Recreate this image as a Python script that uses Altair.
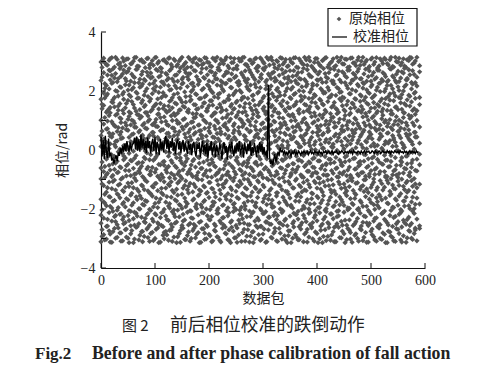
import altair as alt
import pandas as pd

# Raw phase cloud: too dense to read point by point, so these hundredths of a rad are
# hand-estimated to reproduce the cloud's extent (+-3.14) and density, not the exact dots.
phase_rows = [
[-311,-248,-221,-167,-98,-61,12,49,101,172,236,298],[-287,-231,-176,-121,-73,-8,37,88,151,193,262,311],
[-302,-259,-189,-143,-84,-31,26,71,128,184,219,289],[-274,-212,-158,-109,-52,5,58,117,139,207,271,304],
[-313,-241,-197,-131,-91,-17,44,96,163,226,253,313],[-266,-226,-171,-102,-66,-22,19,82,146,178,244,281],
[-296,-253,-204,-149,-77,-38,31,63,122,199,231,307],[-281,-218,-162,-116,-57,3,52,109,157,214,276,295],
[-308,-236,-183,-137,-94,-12,41,75,134,189,258,312],[-270,-246,-193,-126,-69,-27,16,92,143,221,242,286],
[-299,-222,-169,-112,-48,9,67,104,168,203,267,309],[-284,-257,-208,-153,-87,-35,28,85,125,181,233,292],
[-314,-233,-179,-128,-62,-4,55,98,154,211,249,301],[-262,-214,-159,-104,-80,-19,34,77,131,196,273,314],
[-305,-250,-199,-141,-71,-43,23,61,119,176,228,283],[-277,-228,-164,-119,-55,7,46,113,160,217,256,306],
[-293,-243,-187,-134,-96,-25,38,90,147,186,239,297],[-268,-219,-174,-107,-64,-10,14,72,127,208,264,310],
[-310,-255,-201,-146,-83,-33,50,103,165,223,278,288],[-279,-234,-156,-123,-59,1,60,86,137,191,247,303],
[-300,-216,-181,-114,-75,-29,21,94,152,201,235,313],[-264,-247,-195,-138,-89,-15,43,79,121,173,269,294],
[-312,-229,-166,-101,-50,11,65,110,158,213,251,279],[-289,-260,-210,-151,-93,-40,25,69,141,194,230,305],
[-276,-224,-177,-129,-68,-6,39,97,133,183,260,299],[-306,-239,-190,-117,-56,-21,57,83,149,218,243,311],
[-271,-252,-160,-108,-79,-36,18,116,169,205,275,290],[-295,-217,-203,-144,-86,2,48,74,124,188,232,308],
[-314,-244,-173,-133,-60,-26,33,100,156,210,255,284],[-283,-227,-185,-106,-72,-13,62,91,136,177,266,302],
[-263,-256,-198,-150,-97,-45,20,78,162,224,240,314],[-303,-237,-163,-120,-53,6,54,106,145,197,272,292],
[-290,-211,-182,-135,-81,-30,29,87,130,215,248,280],[-309,-249,-206,-113,-65,-9,45,70,166,182,259,307],
[-273,-232,-170,-142,-90,-37,15,95,123,204,227,298],[-298,-258,-192,-125,-58,10,59,111,153,190,268,312],
[-280,-220,-155,-100,-76,-24,36,84,140,222,238,287],[-313,-242,-186,-139,-63,-2,51,66,118,175,262,304],
[-267,-213,-175,-122,-85,-41,27,102,159,209,246,293],[-301,-254,-200,-147,-70,-16,47,93,132,185,277,311],
[-286,-235,-161,-110,-49,8,64,76,150,216,234,296],[-311,-225,-191,-130,-92,-32,22,115,167,198,265,283],
[-272,-251,-178,-145,-54,-20,42,81,126,180,252,309],[-294,-215,-205,-103,-78,4,56,99,142,220,241,314],
[-307,-240,-168,-136,-67,-28,30,73,155,192,270,291],[-265,-230,-188,-118,-88,-11,13,108,135,206,229,300],
[-282,-261,-157,-111,-51,-39,53,89,164,225,257,306],[-304,-223,-196,-148,-74,0,40,68,120,174,263,285],
[-314,-245,-172,-127,-95,-23,24,105,148,212,237,313],[-275,-209,-184,-105,-61,-7,58,82,138,187,274,297],
[-297,-256,-202,-140,-82,-34,35,112,161,200,250,278],[-288,-238,-165,-124,-47,12,63,77,129,219,233,310],
[-310,-219,-194,-115,-71,-18,17,101,170,195,261,302],[-269,-248,-180,-152,-99,-42,49,88,144,179,245,314],
[-292,-226,-158,-132,-56,3,32,71,117,214,228,289],[-312,-253,-207,-109,-83,-26,61,96,157,202,271,305],
[-278,-214,-174,-143,-64,-14,26,107,134,184,254,293],[-300,-241,-189,-126,-91,-44,44,80,151,223,239,309],
[-263,-231,-161,-104,-52,9,55,114,127,193,267,284],[-306,-259,-199,-137,-77,-31,19,67,163,211,247,312],
[-285,-216,-176,-119,-94,-5,37,92,140,176,276,299],[-313,-244,-209,-154,-59,-21,52,75,122,207,231,281],
[-271,-228,-167,-101,-69,14,46,103,158,189,258,307],[-296,-252,-183,-131,-86,-38,23,85,146,217,242,314],
[-282,-222,-193,-112,-48,-12,60,98,131,181,264,291],[-308,-236,-156,-145,-73,-29,31,69,168,204,236,303],
[-266,-247,-179,-120,-97,5,41,110,125,196,253,286],[-302,-212,-203,-134,-62,-33,16,83,149,221,273,311],
[-291,-239,-171,-107,-80,-17,57,94,137,186,244,298],[-314,-257,-186,-141,-54,7,28,72,160,209,226,283],
[-274,-224,-163,-116,-90,-24,50,116,143,178,269,308],[-299,-249,-197,-128,-66,-46,39,78,121,213,250,294],
[-287,-218,-173,-103,-75,-3,64,100,154,192,235,313],[-305,-234,-208,-149,-57,-35,21,87,133,224,262,279],
[-268,-254,-159,-125,-84,11,47,68,166,183,240,301],[-311,-221,-190,-110,-93,-19,33,105,129,199,277,290],
[-279,-243,-177,-138,-50,-8,56,91,152,216,232,306],[-295,-215,-200,-117,-72,-40,25,76,139,175,256,314],
[-264,-260,-165,-146,-88,2,43,113,162,206,248,284],[-309,-229,-182,-106,-60,-27,18,95,126,188,272,297],
[-283,-240,-157,-129,-78,-15,59,81,147,220,238,310],[-301,-213,-195,-113,-96,-37,35,66,119,172,265,288],
[-314,-251,-170,-142,-53,6,51,109,156,201,229,303],[-270,-227,-204,-122,-68,-22,27,86,135,194,259,312],
[-293,-246,-184,-102,-85,-6,62,74,164,212,243,281],[-306,-217,-160,-135,-45,-32,38,99,123,180,275,296],
[-277,-233,-192,-118,-79,10,20,111,150,225,234,309],[-311,-258,-175,-150,-63,-25,54,79,141,185,252,286],
[-262,-223,-206,-108,-92,-10,42,93,128,208,268,300],[-298,-242,-168,-130,-51,-43,29,70,167,197,230,314],
[-284,-211,-188,-115,-74,4,65,104,136,177,260,291],[-304,-255,-155,-139,-87,-20,15,84,153,218,246,307],
[-272,-237,-198,-124,-58,-36,48,97,120,191,271,282],[-313,-220,-181,-105,-95,1,34,67,159,205,237,312],
[-289,-250,-164,-147,-65,-28,58,108,144,174,255,295],[-300,-232,-201,-111,-82,-13,24,90,132,222,266,305],
[-267,-214,-172,-133,-49,-39,45,73,165,187,241,287],[-307,-245,-191,-121,-76,8,61,112,138,210,228,314],
[-280,-226,-158,-100,-89,-16,30,82,124,179,274,299],[-312,-256,-205,-144,-55,-30,40,101,155,195,249,278],
[-275,-218,-178,-127,-70,13,53,77,142,215,233,308],[-294,-241,-185,-109,-98,-23,22,115,161,182,263,290],
[-309,-230,-162,-136,-61,-4,66,89,125,203,245,313],[-265,-253,-196,-151,-81,-41,36,71,148,226,270,285],
[-303,-216,-169,-114,-47,6,47,106,130,173,239,302],[-286,-235,-207,-126,-73,-18,19,94,157,198,257,311],
[-314,-247,-180,-103,-90,-34,57,80,134,219,231,293],[-278,-222,-154,-140,-56,-9,32,103,169,190,276,306],
[-297,-259,-194,-119,-84,12,49,69,122,208,251,283],[-310,-225,-166,-132,-67,-26,26,98,145,183,235,314],
[-269,-243,-187,-106,-93,-2,63,86,137,214,267,298],[-305,-212,-202,-148,-52,-37,41,75,160,176,244,288],
[-291,-238,-173,-123,-78,7,17,110,127,200,261,309],[-313,-252,-160,-111,-64,-21,55,92,151,221,238,280],
[-273,-228,-189,-137,-86,-11,38,68,118,186,272,303],[-299,-249,-176,-104,-59,-44,28,114,163,207,229,312],
[-283,-215,-199,-143,-97,3,60,83,140,192,256,295],[-308,-234,-163,-128,-71,-31,44,100,133,217,247,314],
[-266,-257,-183,-116,-50,-14,23,78,154,178,265,286],
]
# A second, less orderly set between those packets (also hand-estimated)
phase_rows_b = [
[-293,-270,-203,-115,-41,33,64,140,155,247,280,302],[-305,-180,-150,-93,-56,-1,8,110,176,209,225,296],
[-258,-235,-128,-79,-24,-15,72,98,133,190,254,288],[-312,-285,-191,-160,-68,21,47,126,144,238,268,310],
[-277,-208,-174,-107,-86,-47,55,89,161,170,229,275],[-299,-243,-222,-136,-44,11,29,80,118,201,259,314],
[-264,-195,-152,-119,-75,-6,76,135,149,183,242,291],[-309,-281,-216,-99,-60,39,61,93,106,212,250,283],
[-250,-227,-178,-141,-33,-20,15,124,172,196,271,301],[-295,-268,-165,-88,-53,2,69,83,158,234,263,308],
[-314,-239,-206,-124,-70,-11,43,114,129,187,220,276],[-273,-187,-147,-111,-37,25,52,101,164,205,257,293],
[-302,-255,-211,-95,-82,-28,78,91,142,228,246,313],[-260,-224,-168,-133,-46,6,35,120,175,192,274,284],
[-289,-200,-155,-78,-63,18,66,107,137,213,240,304],[-311,-276,-184,-122,-90,-42,50,84,168,224,266,299],
[-246,-232,-172,-103,-30,-3,74,127,152,199,235,279],[-297,-263,-215,-139,-58,27,41,97,116,181,252,311],
[-283,-205,-148,-84,-72,-16,9,131,173,244,261,292],[-307,-242,-193,-126,-35,48,59,87,146,208,226,287],
[-269,-220,-163,-113,-65,-23,80,104,156,216,273,314],[-314,-252,-177,-92,-49,13,36,122,139,195,248,300],
[-256,-213,-145,-130,-83,4,68,95,178,231,264,277],[-301,-279,-201,-108,-39,-52,24,112,150,185,222,306],
[-288,-236,-158,-76,-61,32,56,86,128,237,256,295],[-272,-197,-182,-121,-94,-9,45,134,165,203,269,312],
[-310,-261,-209,-137,-43,20,75,100,143,177,241,282],[-248,-226,-169,-97,-54,-14,63,117,159,218,253,303],
[-294,-204,-153,-112,-81,37,51,90,125,192,233,290],[-313,-273,-188,-89,-27,-36,7,136,171,210,278,308],
[-265,-241,-218,-129,-67,16,70,103,148,227,246,285],[-304,-192,-175,-105,-40,-19,42,81,162,181,262,297],
[-278,-254,-146,-123,-74,28,60,128,137,239,258,314],[-300,-230,-207,-82,-51,-5,34,94,170,198,225,281],
[-252,-266,-166,-116,-32,53,77,109,154,215,270,309],[-286,-199,-183,-96,-87,10,22,123,138,188,249,293],
[-314,-245,-151,-135,-45,-26,65,85,174,232,236,306],[-267,-212,-194,-101,-62,40,49,115,147,204,276,289],
[-303,-282,-171,-125,-80,-12,73,99,160,180,243,313],[-259,-223,-144,-91,-34,17,30,132,141,221,255,298],
[-291,-237,-202,-110,-69,-48,58,88,167,206,267,284],[-308,-189,-176,-132,-42,1,44,119,152,194,230,311],
[-275,-257,-159,-85,-57,26,71,102,126,241,260,302],[-296,-214,-198,-118,-77,-18,38,92,177,189,272,280],
[-312,-247,-149,-98,-29,54,62,129,145,217,234,307],[-254,-229,-186,-127,-64,12,19,83,163,200,251,292],
[-284,-206,-167,-104,-83,-31,76,111,135,226,265,314],[-306,-271,-213,-87,-46,5,47,97,171,184,238,278],
[-262,-240,-154,-134,-55,-7,33,125,155,211,258,296],[-298,-196,-181,-94,-73,43,67,89,140,193,245,310],
[-313,-264,-161,-120,-38,-25,15,118,166,229,274,286],[-249,-218,-204,-106,-66,23,55,105,149,202,223,301],
[-280,-233,-147,-86,-50,-10,79,93,127,178,254,313],[-309,-201,-190,-128,-78,35,46,130,158,235,268,290],
[-270,-253,-173,-100,-35,-44,8,101,175,207,240,282],[-292,-225,-156,-117,-59,18,64,84,143,220,263,305],
[-314,-277,-210,-90,-71,-2,31,121,169,186,247,297],[-257,-193,-179,-131,-41,50,69,96,136,213,277,311],
[-287,-238,-143,-109,-85,-22,41,113,153,197,231,283],[-303,-259,-205,-83,-48,9,24,88,164,242,256,308],
[-268,-215,-164,-125,-65,-13,74,133,146,182,271,294],[-311,-244,-185,-96,-30,39,57,104,128,219,237,314],
[-251,-228,-152,-138,-76,3,20,82,172,205,252,288],[-299,-194,-170,-102,-54,-37,66,116,151,191,261,304],
[-276,-265,-212,-114,-88,29,48,95,139,233,244,279],[-310,-222,-145,-81,-43,-16,13,126,179,210,275,300],
[-282,-248,-200,-122,-60,59,75,90,157,185,228,313],[-255,-207,-160,-93,-36,7,32,108,167,222,259,291],
[-306,-234,-177,-140,-69,-28,52,86,131,199,266,307],[-290,-274,-150,-107,-52,16,71,119,144,240,248,285],
[-314,-192,-187,-84,-79,-4,37,99,174,206,232,298],[-261,-242,-214,-129,-47,44,61,112,150,188,269,312],
[-295,-219,-157,-98,-67,-21,26,80,163,227,253,281],[-304,-260,-174,-119,-33,10,78,124,138,201,243,309],
[-247,-202,-142,-88,-91,-39,42,94,170,214,264,294],[-285,-231,-197,-135,-56,22,51,107,155,180,239,314],
[-312,-269,-168,-103,-72,-8,68,85,134,223,272,287],[-253,-211,-183,-126,-44,34,14,127,147,196,250,302],
[-301,-246,-148,-80,-58,-30,60,91,176,218,225,279],[-278,-221,-206,-111,-75,1,28,115,160,184,267,310],
[-314,-195,-162,-94,-37,49,73,102,142,236,257,296],[-258,-272,-180,-133,-63,-17,19,83,168,208,241,284],
[-293,-235,-155,-108,-84,6,56,120,153,193,276,306],[-307,-209,-199,-86,-50,-46,36,98,129,230,247,313],
[-263,-251,-171,-121,-31,25,65,87,178,203,262,289],[-288,-217,-144,-100,-70,-11,11,110,145,187,234,299],
[-311,-262,-189,-139,-42,47,77,93,161,224,273,282],[-250,-226,-208,-91,-61,-1,30,123,137,212,255,314],
[-297,-186,-159,-116,-78,-34,54,105,173,195,238,303],[-275,-255,-176,-82,-53,15,63,81,150,179,265,292],
[-314,-238,-146,-128,-40,-24,40,117,132,228,251,308],[-266,-203,-196,-105,-68,31,72,96,166,209,270,280],
[-302,-280,-165,-95,-86,-6,21,125,141,190,226,311],[-256,-216,-185,-137,-29,57,45,89,156,237,260,295],
[-284,-243,-151,-113,-64,8,70,103,172,200,245,286],[-309,-198,-204,-87,-55,-43,33,82,135,217,275,314],
[-271,-258,-178,-124,-77,18,52,128,148,183,242,301],[-296,-224,-141,-101,-38,-15,67,92,169,225,258,290],
[-313,-247,-191,-132,-59,4,27,114,159,204,233,305],[-249,-210,-167,-90,-81,46,61,85,130,192,268,283],
[-287,-268,-153,-118,-45,-27,38,109,177,221,253,312],[-305,-232,-201,-83,-66,12,74,97,143,186,240,298],
[-260,-188,-175,-127,-32,-12,16,131,154,213,271,278],[-300,-253,-158,-104,-73,55,43,84,165,198,227,309],
[-281,-213,-212,-136,-49,0,68,118,139,234,262,293],[-314,-240,-163,-92,-88,-35,29,100,174,207,249,307],
[-254,-275,-182,-112,-57,23,58,90,152,181,236,288],[-292,-205,-149,-97,-39,-19,76,122,133,219,274,314],
[-308,-229,-195,-130,-71,41,35,86,167,194,246,281],[-267,-250,-170,-85,-52,-3,13,113,146,229,257,300],
[-283,-218,-156,-120,-80,50,64,101,178,202,232,311],[-312,-261,-207,-99,-26,-41,24,94,138,188,265,296],
[-246,-190,-173,-134,-62,9,71,126,157,215,277,285],[-298,-236,-143,-106,-47,-20,47,83,170,239,243,306],
[-276,-256,-199,-89,-76,32,53,107,149,182,255,314],[-303,-207,-160,-123,-34,-8,19,92,134,223,269,291],
[-265,-271,-184,-115,-69,44,60,121,175,196,228,302],
]
packets = list(range(0, 595, 5))
packets_b = [p + 2 for p in packets]

# Calibrated phase, hundredths of a rad, every second packet from 0 to 590
line_values = [
45,-22,34,-30,48,-5,-28,39,-18,-12,-36,-25,-46,-30,-18,-38,-8,-20,6,-12,14,-6,22,-4,30,8,-6,26,-2,18,
22,42,2,46,-2,36,-6,52,8,38,0,32,-10,42,6,30,-12,24,38,-4,46,-14,28,10,-16,38,2,26,-8,32,
48,4,36,-8,30,8,42,-2,26,-14,24,36,2,30,-10,20,34,-6,26,6,-14,30,0,22,-18,18,28,-6,-22,20,
4,26,-24,8,32,-8,18,-14,24,-28,14,-2,30,-18,6,22,-24,18,-4,-16,24,2,-30,12,26,-10,14,-32,6,20,
-6,28,0,-22,14,-12,24,-6,30,-16,4,18,-26,26,0,-14,22,-4,32,-20,10,-10,24,2,-24,16,-12,26,-6,20,
-14,10,-18,-8,-28,
220,-20,-48,-35,-52,-30,-14,-42,-18,-8,-16,4,-6,-2,-12,-4,-14,-8,-18,-2,-10,-20,-6,-12,-3,-16,-8,-14,-4,-10,
-18,-6,-12,-2,-14,-8,-5,-16,-9,-3,-12,-7,-15,-4,-10,-6,-14,-2,-11,-8,-16,-5,-9,-3,-13,-7,-4,-12,-10,-2,
-15,-6,-8,-3,-11,-14,-5,-9,-2,-7,-13,-4,-10,-6,-12,-3,-8,-5,-14,-2,-9,-7,-11,-4,-6,-13,-3,-10,-8,-2,
-12,-5,-7,-4,-11,-9,-3,-6,-13,-2,-8,-10,-5,-4,-12,-7,-3,-9,-6,-11,-2,-8,-5,-13,-4,-7,-10,-3,-6,-9,
-4,-12,-2,-8,-6,-11,-3,-9,-5,-13,-7,-2,-10,-4,-8,-6,-12,-3,-9,-5,
]
line_packets = list(range(0, 2 * len(line_values), 2))

x_ticks = [0, 100, 200, 300, 400, 500, 600]
y_ticks = [-4, -3, -2, -1, 0, 1, 2, 3, 4]
legend_labels = ["原始相位", "校准相位"]
y_title = "相位/rad"
x_title = "数据包"
caption_cn = ["图 2", "前后相位校准的跌倒动作"]
caption_en = ["Fig.2", "Before and after phase calibration of fall action"]

points = pd.DataFrame(
    [{"packet": p, "phase": v / 100} for p, row in zip(packets, phase_rows) for v in row]
    + [{"packet": p, "phase": v / 100} for p, row in zip(packets_b, phase_rows_b) for v in row]
)
line = pd.DataFrame({"packet": line_packets, "phase": [v / 100 for v in line_values]})

SERIF = "Liberation Serif"
CJK = "Noto Sans CJK SC"
xs = alt.Scale(domain=[0, 600], nice=False)
ys = alt.Scale(domain=[-4, 4], nice=False)

cloud = alt.Chart(points).mark_point(shape="diamond", filled=True, size=28, color="#555555", opacity=1).encode(
    x=alt.X("packet:Q", scale=xs,
            axis=alt.Axis(values=x_ticks, ticks=False, grid=False, title=x_title, domainColor="#111", domainWidth=1.2,
                          labelFont=SERIF, labelFontSize=14, labelColor="#222", labelPadding=5, labelFlush=False,
                          titleFont=CJK, titleFontSize=14, titleFontWeight="normal", titleColor="#222", titlePadding=4)),
    y=alt.Y("phase:Q", scale=ys,
            axis=alt.Axis(values=y_ticks, ticks=False, grid=False, title=y_title, domainColor="#111", domainWidth=1.2,
                          labelFont=SERIF, labelFontSize=14, labelColor="#222", labelPadding=6,
                          titleFont=CJK, titleFontSize=14, titleFontWeight="normal", titleColor="#222", titlePadding=11)),
)
phase_line = alt.Chart(line).mark_line(color="#000", strokeWidth=1.4).encode(
    x=alt.X("packet:Q", scale=xs), y=alt.Y("phase:Q", scale=ys))

xt = alt.Chart(pd.DataFrame({"v": x_ticks})).mark_rule(color="#111", strokeWidth=1).encode(
    x=alt.X("v:Q", scale=xs), y=alt.value(236), y2=alt.value(231))
yt = alt.Chart(pd.DataFrame({"v": y_ticks})).mark_rule(color="#111", strokeWidth=1).encode(
    y=alt.Y("v:Q", scale=ys), x=alt.value(0), x2=alt.value(5))

box = alt.Chart(pd.DataFrame({"a": [0]})).mark_rect(fill="white", stroke="#111", strokeWidth=1.2).encode(
    x=alt.value(227), x2=alt.value(316), y=alt.value(-23.5), y2=alt.value(14))
key_pt = alt.Chart(pd.DataFrame({"a": [0]})).mark_point(shape="diamond", filled=True, size=22, color="#555", opacity=1).encode(
    x=alt.value(238), y=alt.value(-13))
key_ln = alt.Chart(pd.DataFrame({"a": [0]})).mark_rule(color="#111", strokeWidth=1.3).encode(
    x=alt.value(231), x2=alt.value(246), y=alt.value(5))

def label(text, x, y, font, size, weight="normal", align="left", angle=0):
    return alt.Chart(pd.DataFrame({"t": [text]})).mark_text(
        font=font, fontSize=size, fontWeight=weight, align=align, baseline="middle", color="#222", angle=angle
    ).encode(text="t:N", x=alt.value(x), y=alt.value(y))

chart = alt.layer(
    cloud, phase_line, xt, yt, box, key_pt, key_ln,
    label(legend_labels[0], 248, -13, CJK, 14),
    label(legend_labels[1], 252, 5, CJK, 14),
    label(caption_cn[0], 21, 294, CJK, 15),
    label(caption_cn[1], 69, 294, CJK, 17.7),
    label(caption_en[0], -66, 322, SERIF, 17, "bold"),
    label(caption_en[1], -9, 322, SERIF, 17.8, "bold"),
).properties(
    width=324, height=236,
    autosize=alt.AutoSizeParams(type="none"),
    padding={"left": 93, "top": 24, "right": 40, "bottom": 101},
).configure_view(stroke=None)

chart.save("out.html", embed_options={"renderer": "svg", "actions": False})
